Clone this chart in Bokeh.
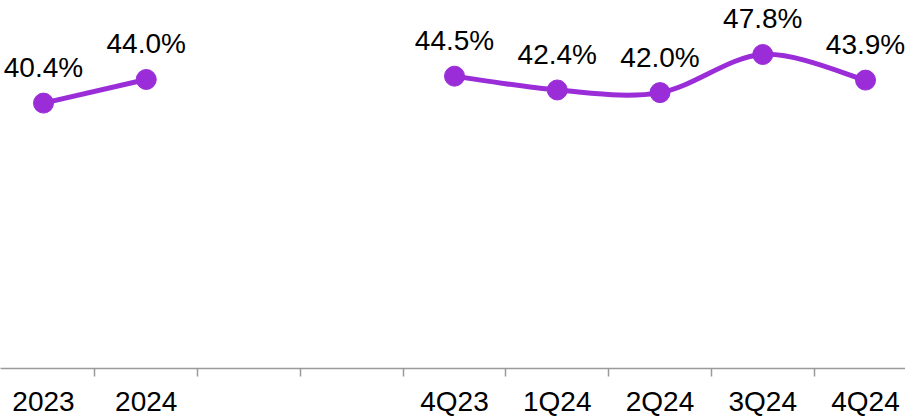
from bokeh.plotting import figure
from bokeh.models import Range1d, FixedTicker, ColumnDataSource, LabelSet
from bokeh.embed import file_html
from bokeh.resources import INLINE
from bokeh.core.properties import value

# ---- data ----
categories = ["2023", "2024", " ", "  ", "4Q23", "1Q24", "2Q24", "3Q24", "4Q24"]
annual_labels = ["2023", "2024"]
annual_values = [40.4, 44.0]
quarter_labels = ["4Q23", "1Q24", "2Q24", "3Q24", "4Q24"]
quarter_values = [44.5, 42.4, 42.0, 47.8, 43.9]

COLOR = "#9A2DD8"
FONT = "Liberation Sans"

ax_x = [categories.index(c) for c in annual_labels]
q_x = [categories.index(c) for c in quarter_labels]

p = figure(frame_width=905, frame_height=368,
           x_range=Range1d(-0.4185, 8.389), y_range=Range1d(0, 56.02),
           output_backend="svg", toolbar_location=None,
           min_border=0, min_border_left=0, min_border_right=0, min_border_top=0)
p.outline_line_color = None
p.xgrid.visible = False
p.ygrid.visible = False
p.yaxis.visible = False
p.background_fill_color = "white"
p.border_fill_color = "white"

# annual series: straight line
p.line(ax_x, annual_values, line_color=COLOR, line_width=5)

# quarterly series: smoothed (Catmull-Rom as cubic Bezier)
n = len(q_x)
bx0, by0, bx1, by1, c0x, c0y, c1x, c1y = [], [], [], [], [], [], [], []
for i in range(n - 1):
    pm1 = (q_x[max(i - 1, 0)], quarter_values[max(i - 1, 0)])
    p0 = (q_x[i], quarter_values[i])
    p1 = (q_x[i + 1], quarter_values[i + 1])
    p2 = (q_x[min(i + 2, n - 1)], quarter_values[min(i + 2, n - 1)])
    bx0.append(p0[0]); by0.append(p0[1])
    bx1.append(p1[0]); by1.append(p1[1])
    c0x.append(p0[0] + (p1[0] - pm1[0]) / 6.0); c0y.append(p0[1] + (p1[1] - pm1[1]) / 6.0)
    c1x.append(p1[0] - (p2[0] - p0[0]) / 6.0); c1y.append(p1[1] - (p2[1] - p0[1]) / 6.0)
p.bezier(x0=bx0, y0=by0, x1=bx1, y1=by1, cx0=c0x, cy0=c0y, cx1=c1x, cy1=c1y,
         line_color=COLOR, line_width=5)

src = ColumnDataSource(dict(
    x=ax_x + q_x,
    y=annual_values + quarter_values,
    txt=[f"{v:.1f}%" for v in annual_values + quarter_values],
))
p.scatter("x", "y", source=src, size=20, fill_color=COLOR, line_color=COLOR)
labels = LabelSet(x="x", y="y", text="txt", source=src, y_offset=26,
                  text_align="center", text_baseline="alphabetic",
                  text_font=value(FONT), text_font_size=value("28px"),
                  text_color="#000000")
p.add_layout(labels)

xa = p.xaxis[0]
xa.ticker = FixedTicker(ticks=list(range(len(categories))),
                        minor_ticks=[i + 0.5 for i in range(len(categories) - 1)])
xa.major_label_overrides = {i: c for i, c in enumerate(categories)}
xa.major_tick_out = 0
xa.major_tick_in = 0
xa.minor_tick_out = 8
xa.minor_tick_in = 0
xa.minor_tick_line_color = "#9a9a9a"
xa.minor_tick_line_width = 1.5
xa.axis_line_color = "#9a9a9a"
xa.axis_line_width = 1.5
xa.major_label_text_font = FONT
xa.major_label_text_font_size = "28px"
xa.major_label_text_color = "#000000"
xa.major_label_standoff = 9

open("out.html", "w").write(file_html(p, INLINE))
